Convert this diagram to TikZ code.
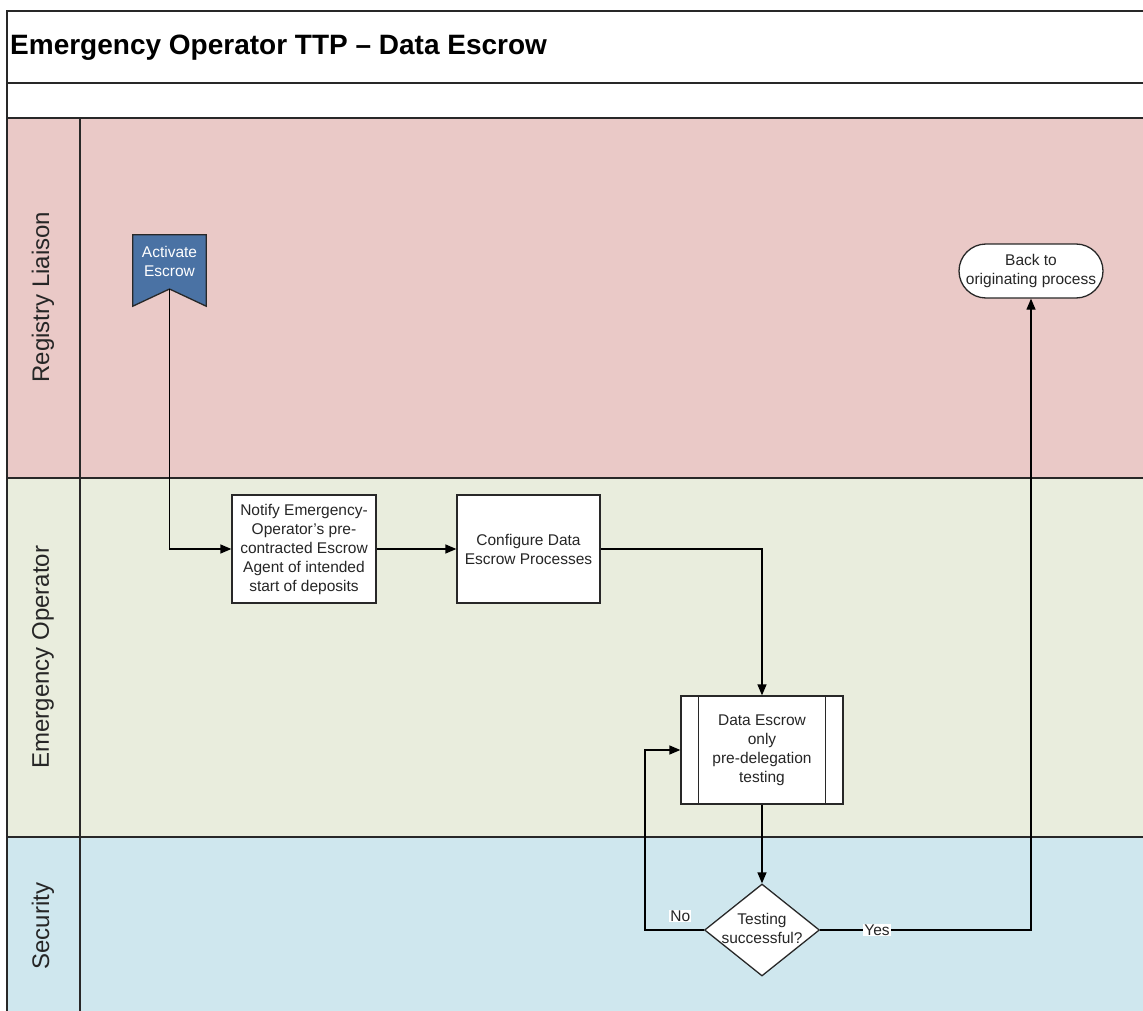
\documentclass[tikz,border=0pt]{standalone}
\usepackage{fontspec}
\setmainfont{Liberation Sans}
\usetikzlibrary{shapes.geometric,arrows.meta,calc}
\definecolor{lanepink}{RGB}{234,201,199}
\definecolor{lanegreen}{RGB}{233,237,221}
\definecolor{laneblue}{RGB}{207,231,238}
\definecolor{actblue}{RGB}{74,114,164}
\definecolor{dark}{RGB}{40,40,40}
\tikzset{
  frame/.style={draw=dark, line width=1.4pt},
  txt/.style={font=\fontsize{15.5}{19}\selectfont, align=center, text=black!85},
  lanelabel/.style={font=\fontsize{24}{28}\selectfont, text=black!85, rotate=90},
  taskbox/.style={draw=dark, fill=white, line width=1.3pt, minimum width=144pt, minimum height=108pt, inner sep=0pt, txt},
  flow/.style={draw=black, line width=1.3pt, -{Triangle[length=11pt,width=9pt]}},
  branchlbl/.style={txt, fill=white, inner sep=1pt}
}
\begin{document}
\begin{tikzpicture}[x=1pt,y=-1pt]
\useasboundingbox (0,0) rectangle (1143,1011);
\clip (0,0) rectangle (1143,1011);
\fill[white] (0,0) rectangle (1143,1011);
% lanes
\fill[lanepink] (7,118) rectangle (1160,478);
\fill[lanegreen] (7,478) rectangle (1160,837);
\fill[laneblue] (7,837) rectangle (1160,1020);
\draw[frame] (1160,11) -- (7,11) -- (7,1020);
\draw[frame] (7,83) -- (1160,83);
\draw[frame] (7,118) -- (1160,118);
\draw[frame] (7,478) -- (1160,478);
\draw[frame] (7,837) -- (1160,837);
\draw[frame] (80,118) -- (80,1020);
% title
\node[anchor=base west, font=\bfseries\fontsize{28}{32}\selectfont, inner sep=0pt] (title) at (10,55) {Emergency Operator TTP -- Data Escrow};
% lane labels
\node[lanelabel] (l1) at (43,297) {Registry Liaison};
\node[lanelabel] (l2) at (43,657) {Emergency Operator};
\node[lanelabel] (l3) at (43,926) {Security};
% activate escrow banner
\node[minimum width=73pt, minimum height=71pt, inner sep=0pt] (act) at (169.5,270.5) {};
\coordinate (actnotch) at (169.5,289);
\filldraw[fill=actblue, draw=dark, line width=1.3pt] (act.north west) -- (act.north east) -- (act.south east) -- (actnotch) -- (act.south west) -- cycle;
\node[txt, text=white] (acttxt) at (169.5,261) {Activate\\Escrow};
% back to originating
\node[draw=dark, fill=white, line width=1.3pt, rounded corners=27pt, minimum width=144pt, minimum height=54pt, inner sep=0pt, txt] (back) at (1031,271) {Back to\\originating process};
% tasks
\node[taskbox] (notify) at (304,549) {Notify Emergency-\\Operator's pre-\\contracted Escrow\\Agent of intended\\start of deposits};
\node[taskbox, minimum width=143pt] (config) at (528.5,549) {Configure Data\\Escrow Processes};
\node[taskbox, minimum width=162pt] (des) at (762,750) {Data Escrow\\only\\pre-delegation\\testing};
\draw[draw=dark, line width=1.3pt] ($(des.north west)+(18,0)$) -- ($(des.south west)+(18,0)$);
\draw[draw=dark, line width=1.3pt] ($(des.north east)+(-18,0)$) -- ($(des.south east)+(-18,0)$);
% decision
\node[diamond, draw=dark, fill=white, line width=1.3pt, minimum width=115pt, minimum height=92pt, inner sep=0pt] (dia) at (762,930) {};
\node[txt] (diatxt) at (762,928) {Testing\\successful?};
% connectors
\draw[flow] (actnotch) |- (notify.west);
\draw[flow] (notify.east) -- (config.west);
\draw[flow] (config.east) -| (des.north);
\draw[flow] (des.south) -- (dia.north);
\coordinate (noc) at (645,930);
\draw[flow] (dia.west) -- node[branchlbl, pos=0.4, above=7pt] {No} (noc) |- (des.west);
\coordinate (yesc) at (1031,930);
\draw[flow] (dia.east) -- node[branchlbl, pos=0.27] {Yes} (yesc) -- (back.south);
\end{tikzpicture}
\end{document}
